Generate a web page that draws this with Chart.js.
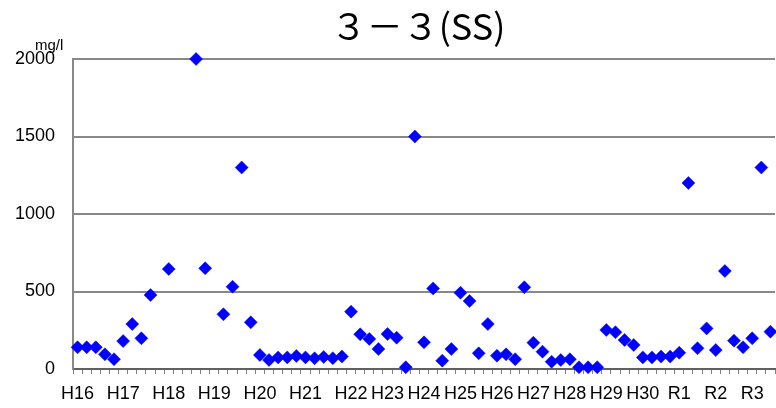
<!DOCTYPE html>
<html>
<head>
<meta charset="utf-8">
<script src="https://cdn.jsdelivr.net/npm/chart.js@4/dist/chart.umd.min.js"></script>
<style>
html,body{margin:0;padding:0;background:#fff;}
#wrap{width:776px;height:408px;position:relative;}
</style>
</head>
<body>
<div id="wrap"><canvas id="c" width="776" height="408"></canvas></div>
<script>
const chartTitle = "３－３(SS)";
const unitLabel = "mg/l";
const yearLabels = ["H16","H17","H18","H19","H20","H21","H22","H23","H24","H25","H26","H27","H28","H29","H30","R1","R2","R3"];
const samplesPerYear = [5,5,5,5,5,5,4,4,4,4,4,4,4,4,4,4,4,3];
const ssValues = [
  140,140,140,95,63,
  180,290,198,477,null,
  645,null,null,2000,650,
  null,353,531,1300,301,
  90,58,75,75,84,
  75,69,78,70,80,
  370,224,194,129,
  226,202,11,1500,
  172,520,54,129,
  492,439,101,290,
  86,95,63,527,
  170,112,47,58,
  63,11,11,11,
  252,237,187,155,
  75,75,80,80,
  105,1200,134,262,
  122,632,183,
  140,198,1300,241
];
const yTicks = [0,500,1000,1500,2000];

const categories = [];
yearLabels.forEach((y, k) => {
  for (let j = 0; j < samplesPerYear[k]; j++) categories.push(j === 0 ? y : "");
});

const titlePlugin = {
  id: 'customTitle',
  afterDraw(chart) {
    const ctx = chart.ctx;
    ctx.save();
    ctx.fillStyle = '#000';
    ctx.textAlign = 'center';
    ctx.textBaseline = 'middle';
    ctx.font = '36px "Noto Sans CJK JP", sans-serif';
    ctx.fillText(chartTitle, 418, 26);
    ctx.font = '15px "Liberation Sans", sans-serif';
    ctx.textAlign = 'left';
    ctx.fillText(unitLabel, 35, 46);
    ctx.restore();
  }
};

new Chart(document.getElementById('c'), {
  type: 'line',
  data: {
    labels: categories,
    datasets: [{
      data: ssValues,
      showLine: false,
      pointStyle: 'rectRot',
      pointRadius: 6.5,
      pointHoverRadius: 6.5,
      pointBackgroundColor: '#0000ff',
      pointBorderColor: '#0000ff',
      pointBorderWidth: 0.5,
      clip: false
    }]
  },
  options: {
    responsive: false,
    animation: false,
    events: [],
    layout: { autoPadding: false, padding: { top: 59, right: 1, left: 0, bottom: 0 } },
    plugins: { legend: { display: false }, title: { display: false }, tooltip: { enabled: false } },
    scales: {
      x: {
        type: 'category',
        offset: true,
        afterFit(s) { s.height = 39; s.paddingLeft = 0; s.paddingRight = 0; },
        grid: { offset: true, drawOnChartArea: false, drawTicks: true, tickLength: 5, color: '#808080', lineWidth: 1 },
        border: { display: true, color: '#606060', width: 2 },
        ticks: { autoSkip: false, maxRotation: 0, minRotation: 0, padding: 9, color: '#000', font: { family: '"Liberation Sans", sans-serif', size: 18 } }
      },
      y: {
        min: 0, max: 2000,
        afterFit(s) { s.width = 73; },
        afterBuildTicks(s) { s.ticks = yTicks.map(v => ({ value: v })); },
        grid: { drawTicks: false, color: '#888888', lineWidth: 2 },
        border: { display: true, color: '#888888', width: 2 },
        ticks: { padding: 18, color: '#000', callback: v => String(v), font: { family: '"Liberation Sans", sans-serif', size: 18 } }
      }
    }
  },
  plugins: [titlePlugin]
});
</script>
</body>
</html>
